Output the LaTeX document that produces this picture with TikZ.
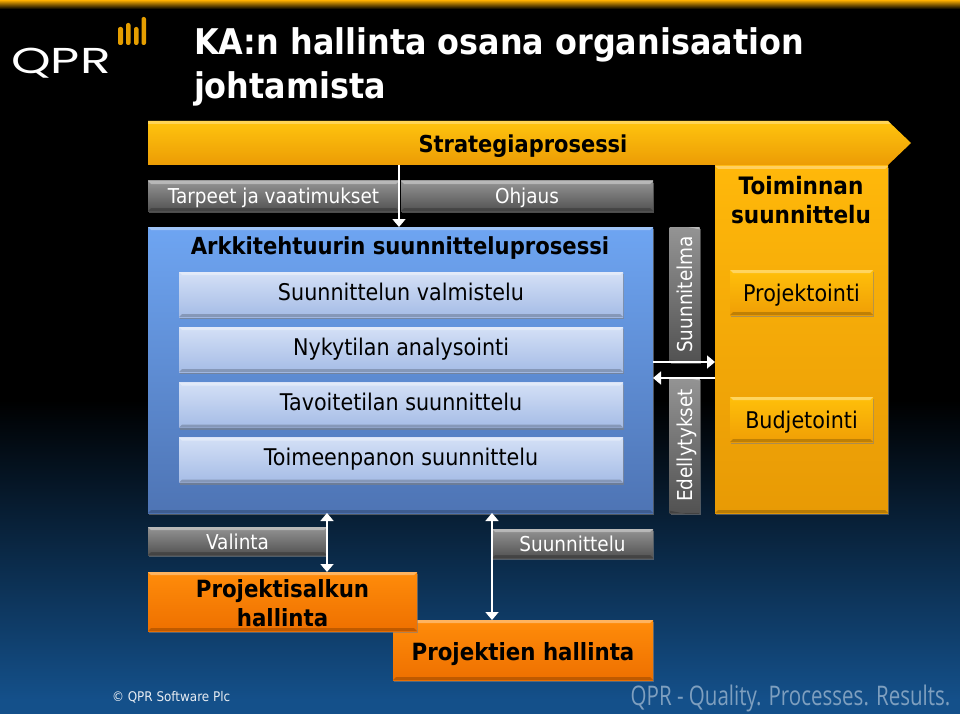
\documentclass[tikz,border=0pt]{standalone}
\usepackage{fontspec}
\setmainfont{DejaVu Sans}[FakeStretch=0.9]
\newfontfamily\logofont{Poppins}
\newfontfamily\sloganfont{Open Sans}
\usetikzlibrary{arrows.meta}
\usetikzlibrary{positioning}
\usetikzlibrary{shadows}
\definecolor{taivas}{HTML}{14508A}
\definecolor{nuolikulta}{HTML}{FFB000}
\tikzset{
  laatikko/.style 2 args={inner sep=0pt,outer sep=0pt,align=center,
    minimum width=#1pt,minimum height=#2pt,
    drop shadow={shadow xshift=1pt,shadow yshift=-2pt,opacity=.6},
    path picture={
      \fill[white,opacity=.35] (path picture bounding box.north west) -- (path picture bounding box.north east)
        -- ([xshift=-3pt,yshift=-3pt]path picture bounding box.north east) -- ([xshift=3pt,yshift=-3pt]path picture bounding box.north west) -- cycle;
      \fill[black,opacity=.2] (path picture bounding box.south west) -- (path picture bounding box.south east)
        -- ([xshift=-3pt,yshift=3pt]path picture bounding box.south east) -- ([xshift=3pt,yshift=3pt]path picture bounding box.south west) -- cycle;
    }},
  harmaa/.style={top color=black!42,bottom color=black!68,text=white,text height=17pt,text depth=1pt,font=\fontsize{20.5}{24}\selectfont},
  vaalea/.style={top color={rgb,255:red,212;green,224;blue,246},bottom color={rgb,255:red,165;green,188;blue,230},text height=16pt,text depth=5pt,font=\fontsize{23}{27}\selectfont},
  sininen/.style={top color={rgb,255:red,110;green,165;blue,242},bottom color={rgb,255:red,78;green,116;blue,180}},
  kulta/.style={top color={rgb,255:red,255;green,184;blue,10},bottom color={rgb,255:red,232;green,154;blue,5}},
  nappi/.style={top color={rgb,255:red,255;green,192;blue,10},bottom color={rgb,255:red,240;green,158;blue,5},text height=18pt,text depth=0pt,font=\fontsize{23}{27}\selectfont},
  oranssi/.style={top color={rgb,255:red,255;green,140;blue,10},bottom color={rgb,255:red,238;green,112;blue,0},font=\bfseries\fontsize{23.7}{29}\selectfont},
  valkonuoli/.style={draw=white,line width=1.6pt},
  kerto/.style={inner sep=0pt,outer sep=0pt,align=center},
}
\begin{document}
\begin{tikzpicture}[x=1pt,y=-1pt]
  \useasboundingbox (0,0) rectangle (960,714);

  \fill[black] (0,0) rectangle (960,400);
  \shade[top color=black,bottom color=taivas] (0,400) rectangle (960,700);
  \fill[taivas] (0,699.5) rectangle (960,714);
  \shade[top color=nuolikulta,bottom color=black] (0,0) rectangle (960,9);

  \foreach \x/\y/\w in {118/27/5,126/23/4.5,134/27/4.5,141.5/17/4.5}
    \fill[nuolikulta!90!black,rounded corners=2pt] (\x,\y) rectangle (\x+\w,45);
  \node[kerto,text=white,font=\logofont\fontsize{36}{36}\selectfont,xscale=1.4] (logo) at (61,63.5) {QPR};

  \node[kerto,text=white,anchor=north west,align=left,font=\bfseries\fontsize{35.4}{43.5}\selectfont] (otsikko) at (194,28)
    {KA:n hallinta osana organisaation\\johtamista};

  \shade[top color={rgb,255:red,255;green,196;blue,14},bottom color={rgb,255:red,236;green,156;blue,5}] (148,121) -- (888,121) -- (911,143) -- (888,165) -- (148,165) -- cycle;
  \fill[white,opacity=.3] (148,121) -- (888,121) -- (891,124) -- (148,124) -- cycle;
  \node[kerto,minimum width=740pt,minimum height=44pt] (strategia) at (518,143.5) {};
  \node[kerto,font=\bfseries\fontsize{23.3}{27}\selectfont] (strategiateksti) at (523,146) {Strategiaprosessi};

  \node[laatikko={251}{30},harmaa,anchor=north west] (tarpeet) at (148,181) {Tarpeet ja vaatimukset};
  \node[laatikko={252}{30},harmaa,anchor=north west] (ohjaus) at (401,181) {Ohjaus};

  \node[laatikko={505}{286},sininen,anchor=north west] (arkki) at (148,227) {};
  \node[kerto,font=\bfseries\fontsize{23.5}{27}\selectfont] (arkkiotsikko) at (400,248) {Arkkitehtuurin suunnitteluprosessi};

  \node[laatikko={444}{45},vaalea] (valmistelu) at (401,294.5) {Suunnittelun valmistelu};
  \node[laatikko={444}{45},vaalea,below=10pt of valmistelu] (analysointi) {Nykytilan analysointi};
  \node[laatikko={444}{45},vaalea,below=10.5pt of analysointi] (tavoite) {Tavoitetilan suunnittelu};
  \node[laatikko={444}{45},vaalea,below=10pt of tavoite] (toimeenpano) {Toimeenpanon suunnittelu};

  \node[laatikko={135}{30},harmaa,rotate=90] (suunnitelma) at (684.5,294.5) {Suunnitelma};
  \node[laatikko={135}{30},harmaa,rotate=90] (edellytykset) at (684.5,445.5) {Edellytykset};

  \node[laatikko={173}{347},kulta,anchor=north west] (toiminta) at (715,166) {};
  \node[kerto,font=\bfseries\fontsize{24}{29.5}\selectfont] (toimintaotsikko) at (801,200) {Toiminnan\\suunnittelu};
  \node[laatikko={143}{45},nappi] (projektointi) at (801.5,292.5) {Projektointi};
  \node[laatikko={143}{45},nappi] (budjetointi) at (801.5,419.5) {Budjetointi};

  \node[laatikko={179}{28},harmaa,anchor=north west] (valinta) at (148,527) {Valinta};
  \node[laatikko={161}{29},harmaa,anchor=north west] (suunnittelu) at (492,529) {Suunnittelu};

  \node[laatikko={260}{60},oranssi,text height=20pt,text depth=0pt,anchor=north west] (projektit) at (393,620) {Projektien hallinta};
  \node[laatikko={269}{59},oranssi,anchor=north west] (salkku) at (148,572) {\rule{0pt}{21pt}Projektisalkun\\hallinta};

  \draw[valkonuoli,-{Triangle[width=13pt,length=8pt]}] (strategia.south -| tarpeet.east) -- (arkki.north -| tarpeet.east);
  \draw[valkonuoli,-{Triangle[width=13pt,length=8pt]}] (arkki.east |- suunnitelma.west) -- (toiminta.west |- suunnitelma.west);
  \draw[valkonuoli,-{Triangle[width=13pt,length=8pt]}] (toiminta.west |- edellytykset.east) -- (arkki.east |- edellytykset.east);
  \draw[valkonuoli,{Triangle[width=13pt,length=8pt]}-{Triangle[width=13pt,length=8pt]}] (arkki.south -| valinta.east) -- (salkku.north -| valinta.east);
  \draw[valkonuoli,{Triangle[width=13pt,length=8pt]}-{Triangle[width=13pt,length=8pt]}] (arkki.south -| suunnittelu.west) -- (projektit.north -| suunnittelu.west);

  \node[kerto,text=white!90!taivas,anchor=west,font=\fontsize{13.3}{16}\selectfont] (tekija) at (112,697) {© QPR Software Plc};
  \node[kerto,text=taivas!55!white,xscale=.76,font=\sloganfont\fontsize{27}{30}\selectfont] (iskulause) at (790.5,698) {QPR - Quality. Processes. Results.};
\end{tikzpicture}
\end{document}
